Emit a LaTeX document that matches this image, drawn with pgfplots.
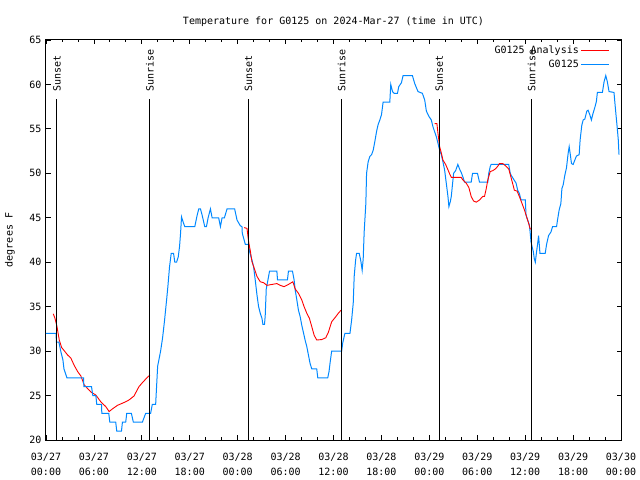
\documentclass[border=0pt]{standalone}
\usepackage{pgfplots}
\pgfplotsset{compat=1.18}
\usepackage{fontspec}
\setmainfont{DejaVu Sans Mono}
\definecolor{gblue}{RGB}{0,136,255}
\definecolor{gred}{RGB}{255,0,0}
\begin{document}
\begin{tikzpicture}
\fontsize{10bp}{15bp}\selectfont
\path[use as bounding box] (-46bp,-40bp) rectangle (594bp,440bp);
\begin{axis}[
  at={(0,0)}, anchor=south west,
  scale only axis, width=575bp, height=400bp,
  xmin=0, xmax=72, ymin=20, ymax=65,
  xtick={0,6,...,72},
  xticklabels={{03/27\\00:00},{03/27\\06:00},{03/27\\12:00},{03/27\\18:00},{03/28\\00:00},{03/28\\06:00},{03/28\\12:00},{03/28\\18:00},{03/29\\00:00},{03/29\\06:00},{03/29\\12:00},{03/29\\18:00},{03/30\\00:00}},
  minor x tick num=2,
  ytick={20,25,...,65},
  tick align=inside,
  major tick length=4.5bp, minor tick length=2.5bp,
  tick style={black, line width=0.8bp},
  axis line style={black, line width=1bp},
  /pgf/number format/assume math mode=true,
  xticklabel style={align=center, font=\fontsize{10bp}{15bp}\selectfont, yshift=-10bp},
  yticklabel style={font=\fontsize{10bp}{12bp}\selectfont, xshift=-1bp},
  title={Temperature for G0125 on 2024-Mar-27 (time in UTC)},
  title style={at={(0.5,1)}, anchor=base, yshift=10bp, font=\fontsize{10bp}{12bp}\selectfont},
  ylabel={degrees F},
  every axis y label/.style={at={(axis description cs:-0.0626,0.5)}, rotate=90, anchor=center, font=\fontsize{10bp}{12bp}\selectfont},
  legend style={at={(axis description cs:1,1)}, anchor=north east, draw=none, fill=none,
    xshift=-8bp, yshift=-2bp, legend cell align=right, row sep=1bp,
    font=\fontsize{10bp}{12bp}\selectfont},
  legend plot pos=right,
  legend image code/.code={\draw[#1] (3bp,0bp) -- (31bp,0bp);},
]
% red analysis series (3 segments)
\addplot[gred, line width=0.9bp] coordinates {
(0.91,34.2)(1.12,33.7)(1.37,32.8)(1.66,31.25)(1.96,30.4)(2.28,30.05)(2.71,29.56)(3.12,29.2)
(3.53,28.4)(3.96,27.7)(4.37,27.2)(4.78,26.2)(5.62,25.4)(6.24,25.06)(6.86,24.3)(7.49,23.75)
(7.90,23.2)(8.32,23.5)(8.95,23.9)(9.98,24.3)(10.39,24.5)(11.02,24.95)(11.64,26.0)(12.07,26.45)
(12.69,27.05)(13.01,27.3)
};
\addlegendentry{G0125 Analysis}
\addplot[gblue, line width=1bp] coordinates {
(0,32)(1.25,32)(1.31,31)(1.62,31)(1.87,29.9)(2.12,29)(2.25,28)(2.62,27)(4.70,27)(4.74,26)
(5.70,26)(5.86,25)(6.24,25)(6.36,24)(6.95,24)(6.99,23)(7.86,23)(7.99,22)(8.73,22)(8.86,21)
(9.45,21)(9.57,22)(9.98,22)(10.11,23)(10.69,23)(10.94,22)(12.07,22)(12.48,23)(13.10,23)
(13.31,24)(13.73,24)(13.98,28.3)(14.35,30)(14.60,31.5)(14.85,33.5)(15.10,35.75)(15.26,37.25)
(15.47,39.5)(15.68,41)(15.97,41)(16.13,40)(16.35,40)(16.56,40.6)(16.72,41.75)(16.85,43.25)
(16.97,45.1)(17.18,44.5)(17.38,44)(18.63,44)(18.93,45.3)(19.13,46)(19.34,46)(19.55,45.3)
(19.88,44)(20.09,44)(20.30,45)(20.59,46)(20.80,45)(21.62,45)(21.84,44)(22.05,45)(22.34,45)
(22.67,46)(23.62,46)(23.92,44.75)(24.33,44.1)(24.54,44)(24.58,43.25)(24.96,42)(25.37,42)
(25.49,41.2)(25.67,40.6)(25.79,40.25)(25.99,39.5)(26.20,38)(26.42,36.3)(26.62,35)(26.83,34.25)
(27.04,33.7)(27.16,33)(27.36,33)(27.45,34)(27.58,37)(27.79,38)(27.99,39)(28.91,39)(28.99,38)
(30.23,38)(30.36,39)(30.86,39)(31.07,38)(31.20,36.9)(31.41,35.75)(31.61,34.6)(31.82,33.9)
(32.03,32.9)(32.23,32.1)(32.44,31.25)(32.66,30.5)(32.86,29.56)(33.07,28.6)(33.28,28)(33.90,28)
(34.03,27)(35.28,27)(35.44,27.7)(35.56,28.6)(35.77,30)(37.02,30)(37.15,30.9)(37.43,32)(38.06,32)
(38.27,33.5)(38.47,35.4)(38.59,38.4)(38.77,40.25)(38.89,41)(39.22,41)(39.43,40.1)(39.59,39.1)
(39.72,40.4)(39.84,43.4)(40.05,46.6)(40.14,50)(40.34,51.3)(40.55,51.9)(40.77,52.1)(40.97,52.6)
(41.18,53.6)(41.39,54.7)(41.59,55.5)(41.80,56)(42.01,56.6)(42.21,58)(43.05,58)(43.17,60)
(43.39,59.2)(43.59,59)(44.01,59)(44.17,59.75)(44.51,60.2)(44.71,61)(45.88,61)(46.17,60.1)
(46.58,59.2)(47.13,59)(47.42,58.25)(47.63,57)(47.95,56.4)(48.25,56)(48.45,55.25)(48.88,54.1)
(49.08,53.4)(49.29,52.6)(49.50,52.1)(49.70,51.3)(49.91,50.4)(50.12,48.9)(50.33,47.4)(50.45,46.25)
(50.62,46.8)(50.75,47.4)(50.87,48.5)(51.04,50)(51.29,50.3)(51.57,51)(51.78,50.5)(51.99,50.1)
(52.20,49.6)(52.41,49)(53.24,49)(53.41,50)(54.03,50)(54.28,49)(55.32,49)(55.44,50)(55.62,50.75)
(55.74,51)(57.94,51)(58.11,50.1)(58.23,49.8)(58.65,49.2)(58.86,48.9)(59.06,48.1)(59.27,47.75)
(59.48,47)(60.02,47)(60.11,45.3)(60.31,44.75)(60.52,44.2)(60.61,43.5)(60.73,42.3)(60.86,41.75)
(61.02,41.2)(61.14,40.4)(61.27,40)(61.43,41.2)(61.55,42)(61.68,43)(61.85,41)(62.51,41)(62.68,42)
(62.93,43)(63.23,43.4)(63.43,44)(63.93,44)(64.05,44.75)(64.26,45.9)(64.47,46.6)(64.60,48.3)
(64.76,48.7)(64.97,49.8)(65.17,50.6)(65.38,52.25)(65.51,53)(65.63,52.25)(65.80,51.1)(66.01,51)
(66.22,51.5)(66.42,51.95)(66.76,52.1)(66.88,53.75)(67.09,55.4)(67.26,56)(67.47,56.1)(67.72,57)
(67.88,57.1)(68.09,56.6)(68.29,56)(68.50,56.75)(68.75,57.5)(68.92,58.1)(69.04,59.1)(69.67,59.1)
(69.88,60.3)(70.09,61)(70.29,60.3)(70.50,59.2)(71.12,59.1)(71.34,56.9)(71.54,55)(71.66,53.75)
(71.75,52.1)
};
\addlegendentry{G0125}
\addplot[gred, line width=0.9bp, forget plot] coordinates {
(24.83,43.9)(25.17,43.8)(25.37,42.3)(25.58,41.3)(25.79,40.06)(26.08,39.3)(26.42,38.4)(26.83,37.8)
(27.24,37.7)(27.66,37.4)(28.29,37.5)(28.91,37.6)(29.32,37.4)(29.82,37.25)(30.36,37.5)(30.91,37.8)
(31.20,37.0)(31.61,36.5)(32.03,35.75)(32.32,35.0)(32.66,34.25)(32.98,33.7)(33.28,32.75)(33.57,31.8)
(33.90,31.25)(34.53,31.3)(35.03,31.5)(35.35,32.1)(35.77,33.3)(36.31,33.9)(36.60,34.25)(36.94,34.6)
};
\addplot[gred, line width=0.9bp, forget plot] coordinates {
(48.67,55.6)(48.95,55.6)(49.08,54.5)(49.29,53.0)(49.50,52.3)(49.70,51.5)(50.04,51.0)(50.33,50.4)
(50.54,49.95)(50.75,49.55)(51.99,49.55)(52.20,49.25)(52.62,48.9)(52.95,48.4)(53.24,47.4)(53.53,46.9)
(53.87,46.75)(54.28,47.0)(54.69,47.4)(54.91,47.4)(55.12,48.25)(55.32,49.25)(55.62,50.2)(55.94,50.3)
(56.28,50.5)(56.57,50.8)(56.78,51.1)(57.19,51.1)(57.61,50.8)(57.94,50.5)(58.15,49.8)(58.36,49.1)
(58.65,48.1)(58.99,48.0)(59.27,47.4)(59.61,46.6)(59.90,45.9)(60.18,45.1)(60.43,44.4)(60.61,43.8)
(60.73,43.7)
};
% sunset / sunrise markers
\addplot[black, line width=1bp, forget plot] coordinates {(1.37,20)(1.37,58.36)};
\addplot[black, line width=1bp, forget plot] coordinates {(13.01,20)(13.01,58.36)};
\addplot[black, line width=1bp, forget plot] coordinates {(25.37,20)(25.37,58.36)};
\addplot[black, line width=1bp, forget plot] coordinates {(37.02,20)(37.02,58.36)};
\addplot[black, line width=1bp, forget plot] coordinates {(49.23,20)(49.23,58.36)};
\addplot[black, line width=1bp, forget plot] coordinates {(60.81,20)(60.81,58.36)};
\node[rotate=90, anchor=west, inner sep=0pt] at (axis cs:1.37,59.15) {Sunset};
\node[rotate=90, anchor=west, inner sep=0pt] at (axis cs:13.01,59.15) {Sunrise};
\node[rotate=90, anchor=west, inner sep=0pt] at (axis cs:25.37,59.15) {Sunset};
\node[rotate=90, anchor=west, inner sep=0pt] at (axis cs:37.02,59.15) {Sunrise};
\node[rotate=90, anchor=west, inner sep=0pt] at (axis cs:49.23,59.15) {Sunset};
\node[rotate=90, anchor=west, inner sep=0pt] at (axis cs:60.81,59.15) {Sunrise};
\end{axis}
\end{tikzpicture}
\end{document}
